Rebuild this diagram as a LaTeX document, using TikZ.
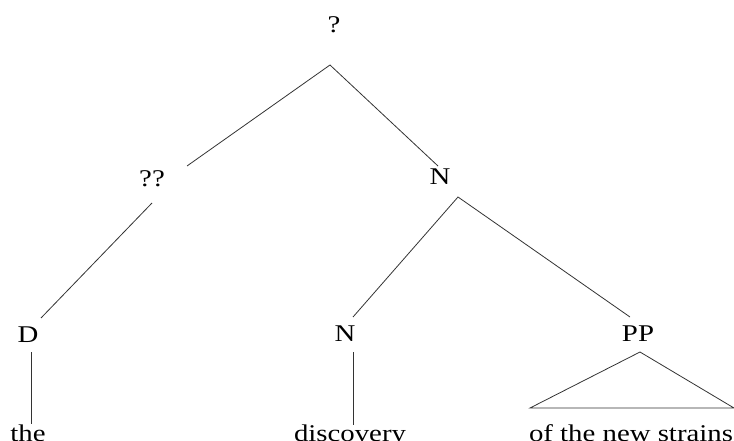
\documentclass[tikz,border=0pt]{standalone}
\usepackage{fontspec}
\setmainfont{Liberation Serif}
\usetikzlibrary{positioning}

\tikzset{
  cat/.style = {anchor = base, inner sep = 0pt, xscale = 1.2,
                font = \fontsize{24}{28}\selectfont},
  branch/.style = {black!80, line width = 0.8pt}
}

\begin{document}
\begin{tikzpicture}[x = 1pt, y = -1pt]
	\useasboundingbox (0, 0) rectangle (734, 441);
	% category labels
	\node [cat] (top) at (334, 33) {?};
	\node [cat] (qq) at (152, 186) {??};
	\node [cat] (nbar) at (440, 185) {N};
	\node [cat] (det) at (28, 342) {D};
	\node [cat] (noun) at (345, 341) {N};
	\node [cat] (pp) at (638, 341) {PP};
	% words
	\node [cat] (the) at (28, 441) {the};
	\node [cat] (discovery) at (350, 441) {discovery};
	\node [cat] (strains) at (631, 441) {of the new strains};
	% branching points
	\coordinate (top-fork) at ([shift = {(-4, 32)}]top.base);
	\coordinate (nbar-fork) at ([shift = {(18, 12)}]nbar.base);
	\coordinate (pp-tip) at ([shift = {(2, 11)}]pp.base);
	% branches
	\draw [branch] ([shift = {(35, -20)}]qq.base) -- (top-fork) -- ([shift = {(-2, -19)}]nbar.base);
	\draw [branch] ([shift = {(0, 17)}]qq.base) -- ([shift = {(13, -24)}]det.base);
	\draw [branch] ([shift = {(8, -24)}]noun.base) -- (nbar-fork) -- ([shift = {(-8, -24)}]pp.base);
	\draw [branch] ([shift = {(3, 10)}]det.base) -- ([shift = {(3, -17)}]the.base);
	\draw [branch] ([shift = {(8, 11)}]noun.base) -- ([shift = {(3, -16)}]discovery.base);
	\draw [branch] (pp-tip) -- ([shift = {(-101, -33)}]strains.base) -- ([shift = {(103, -33)}]strains.base) -- cycle;
\end{tikzpicture}
\end{document}
